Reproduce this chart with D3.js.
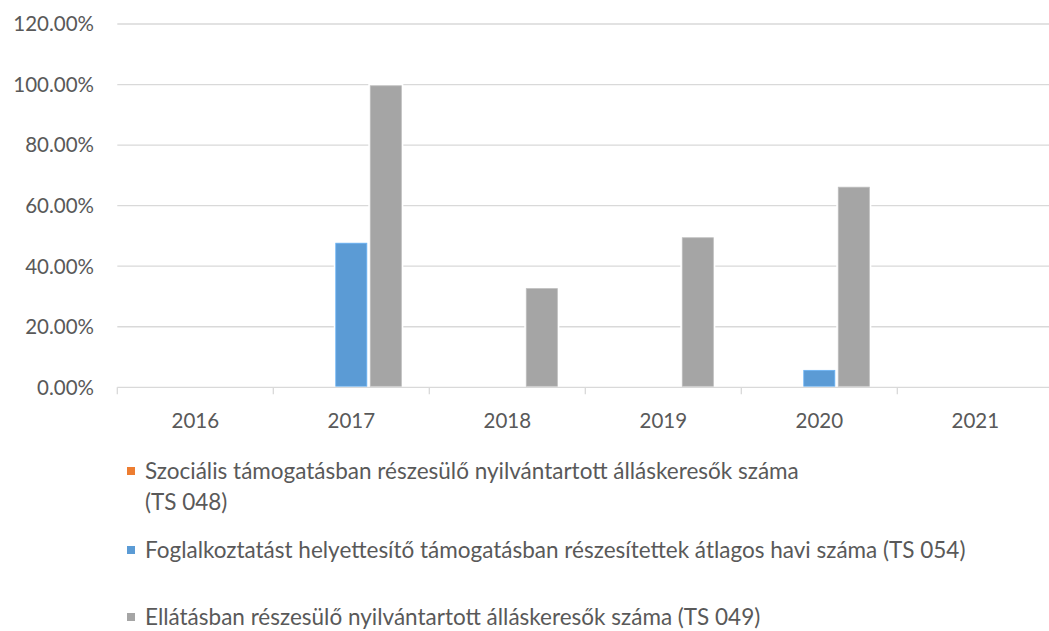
<!DOCTYPE html>
<html><head><meta charset="utf-8">
<script src="https://cdn.jsdelivr.net/npm/d3@7"></script>
<style>body{margin:0;background:#fff}svg{display:block}</style>
</head><body>
<svg id="c" width="1049" height="631"></svg>
<script>
const years = ["2016","2017","2018","2019","2020","2021"];
const seriesNames = [
  "Szociális támogatásban részesülő nyilvántartott álláskeresők száma",
  "Foglalkoztatást helyettesítő támogatásban részesítettek átlagos havi száma (TS 054)",
  "Ellátásban részesülő nyilvántartott álláskeresők száma (TS 049)"
];
const seriesColors = ["#ed7d31","#5b9bd5","#a5a5a5"];
const ts048 = [0, 0, 0, 0, 0, 0];
const ts054 = [0, 0.476, 0, 0, 0.056, 0];
const ts049 = [0, 0.996, 0.326, 0.494, 0.661, 0];
const yTicks = [0, 0.2, 0.4, 0.6, 0.8, 1.0, 1.2];

const seriesValues = [ts048, ts054, ts049];
const svg = d3.select("#c");
const font = "Lato, 'Open Sans', sans-serif";

const x0 = d3.scaleBand().domain(years).range([117.3, 1053.3]).padding(0);
const x1 = d3.scaleBand().domain([0,1,2]).range([0, x0.bandwidth()]).paddingInner(0.1).paddingOuter(0.81);
const y = d3.scaleLinear().domain([0, 1.2]).range([387.3, 24]);

// gridlines
svg.append("g").selectAll("line").data(yTicks.slice(1)).join("line")
  .attr("x1", 117.3).attr("x2", 1053.3)
  .attr("y1", d => y(d)).attr("y2", d => y(d))
  .attr("stroke", "#d9d9d9").attr("stroke-width", 1.3);

// y labels
svg.append("g").selectAll("text").data(yTicks).join("text")
  .attr("x", 94).attr("y", d => y(d)).attr("dy", "0.36em")
  .attr("text-anchor", "end")
  .attr("font-family", font).attr("font-size", 20.5).attr("fill", "#595959")
  .text(d => d3.format(".2%")(d));

// bars
const data = [];
years.forEach((yr, i) => seriesValues.forEach((arr, s) => {
  if (arr[i] > 0) data.push({yr, s, v: arr[i]});
}));
const bars = svg.append("g");
bars.selectAll("rect.bg").data(data).join("rect").attr("class","bg")
  .attr("x", d => x0(d.yr) + x1(d.s) - 2)
  .attr("width", x1.bandwidth() + 4)
  .attr("y", d => y(d.v) - 2)
  .attr("height", d => y(0) - y(d.v) + 2)
  .attr("fill", "#fff");
bars.selectAll("rect.bar").data(data).join("rect").attr("class","bar")
  .attr("x", d => x0(d.yr) + x1(d.s))
  .attr("width", x1.bandwidth())
  .attr("y", d => y(d.v))
  .attr("height", d => y(0) - y(d.v) - 1)
  .attr("fill", d => seriesColors[d.s])
  .attr("stroke", d => d3.color(seriesColors[d.s]).brighter(0.4))
  .attr("stroke-width", 0.8);

// x axis line and ticks
svg.append("line").attr("x1", 117.3).attr("x2", 1053.3)
  .attr("y1", y(0)).attr("y2", y(0)).attr("stroke", "#d9d9d9").attr("stroke-width", 1.3);
const bounds = years.map(yr => x0(yr)).concat([x0.range()[1]]);
svg.append("g").selectAll("line").data(bounds).join("line")
  .attr("x1", d => d).attr("x2", d => d)
  .attr("y1", y(0)).attr("y2", y(0) + 7)
  .attr("stroke", "#d9d9d9").attr("stroke-width", 1.3);
svg.append("g").selectAll("text").data(years).join("text")
  .attr("x", d => x0(d) + x0.bandwidth()/2).attr("y", 421).attr("dy", "0.36em")
  .attr("text-anchor", "middle")
  .attr("font-family", font).attr("font-size", 20.5).attr("fill", "#595959")
  .text(d => d);

// legend
const legend = [
  {s:0, lines:[seriesNames[0], "(TS 048)"], y:471},
  {s:1, lines:[seriesNames[1]], y:550},
  {s:2, lines:[seriesNames[2]], y:617}
];
const lg = svg.append("g");
legend.forEach(L => {
  lg.append("rect").attr("x", 127).attr("y", L.y - 4).attr("width", 8).attr("height", 8)
    .attr("fill", seriesColors[L.s]);
  L.lines.forEach((t, k) => {
    lg.append("text").attr("x", 145).attr("y", L.y + k*31).attr("dy", "0.36em")
      .attr("font-family", font).attr("font-size", 22.5).attr("fill", "#595959")
      .text(t);
  });
});
</script>
</body></html>
